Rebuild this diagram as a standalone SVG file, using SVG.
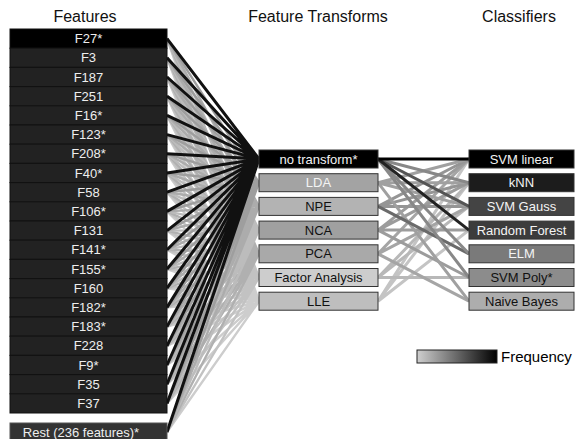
<svg xmlns="http://www.w3.org/2000/svg" width="575" height="439" viewBox="0 0 575 439">
<defs>
<style>
text{font-family:"Liberation Sans",Arial,sans-serif;text-anchor:middle}
.title{font-size:16px;fill:#111}
.lbl{font-size:13px}
.feat rect{fill:#222;stroke:#111;stroke-width:1}
.feat text{fill:#eee}
.box rect{stroke:#333;stroke-width:1}
.w{fill:#f4f4f4}
.k{fill:#111}
.con path{fill:none;stroke-width:3}
.con .g{stroke-width:2.4}
</style>
<linearGradient id="freq" x1="0" y1="0" x2="1" y2="0">
<stop offset="0" stop-color="#cfcfcf"/>
<stop offset="1" stop-color="#000"/>
</linearGradient>
</defs>
<rect width="575" height="439" fill="#fff"/>
<text class="title" x="85" y="22">Features</text>
<text class="title" x="318" y="22">Feature Transforms</text>
<text class="title" x="519" y="22">Classifiers</text>

<g id="connectors" class="con">
<path class="g" stroke="#cdcdcd" d="M167 38.6L259 301.2M167 57.8L259 301.2M167 77L259 301.2M167 96.2L259 301.2M167 115.4L259 301.2M167 134.6L259 301.2M167 153.8L259 301.2M167 173L259 301.2M167 192.2L259 301.2M167 211.4L259 301.2M167 230.6L259 301.2M167 249.8L259 301.2M167 269L259 301.2M167 288.2L259 301.2M167 307.4L259 301.2M167 326.6L259 301.2M167 345.8L259 301.2M167 365L259 301.2M167 384.2L259 301.2M167 403.4L259 301.2M167 432L259 301.2"/>
<path class="g" stroke="#c2c2c2" d="M167 38.6L259 277.5M167 57.8L259 277.5M167 77L259 277.5M167 96.2L259 277.5M167 115.4L259 277.5M167 134.6L259 277.5M167 153.8L259 277.5M167 173L259 277.5M167 192.2L259 277.5M167 211.4L259 277.5M167 230.6L259 277.5M167 249.8L259 277.5M167 269L259 277.5M167 288.2L259 277.5M167 307.4L259 277.5M167 326.6L259 277.5M167 345.8L259 277.5M167 365L259 277.5M167 384.2L259 277.5M167 403.4L259 277.5M167 432L259 277.5"/>
<path class="g" stroke="#b0b0b0" d="M167 38.6L259 253.8M167 57.8L259 253.8M167 77L259 253.8M167 96.2L259 253.8M167 115.4L259 253.8M167 134.6L259 253.8M167 153.8L259 253.8M167 173L259 253.8M167 192.2L259 253.8M167 211.4L259 253.8M167 230.6L259 253.8M167 249.8L259 253.8M167 269L259 253.8M167 288.2L259 253.8M167 307.4L259 253.8M167 326.6L259 253.8M167 345.8L259 253.8M167 365L259 253.8M167 384.2L259 253.8M167 403.4L259 253.8M167 432L259 253.8"/>
<path class="g" stroke="#bcbcbc" d="M167 38.6L259 230.1M167 57.8L259 230.1M167 77L259 230.1M167 96.2L259 230.1M167 115.4L259 230.1M167 134.6L259 230.1M167 153.8L259 230.1M167 173L259 230.1M167 192.2L259 230.1M167 211.4L259 230.1M167 230.6L259 230.1M167 249.8L259 230.1M167 269L259 230.1M167 288.2L259 230.1M167 307.4L259 230.1M167 326.6L259 230.1M167 345.8L259 230.1M167 365L259 230.1M167 384.2L259 230.1M167 403.4L259 230.1M167 432L259 230.1"/>
<path class="g" stroke="#acacac" d="M167 38.6L259 206.4M167 57.8L259 206.4M167 77L259 206.4M167 96.2L259 206.4M167 115.4L259 206.4M167 134.6L259 206.4M167 153.8L259 206.4M167 173L259 206.4M167 192.2L259 206.4M167 211.4L259 206.4M167 230.6L259 206.4M167 249.8L259 206.4M167 269L259 206.4M167 288.2L259 206.4M167 307.4L259 206.4M167 326.6L259 206.4M167 345.8L259 206.4M167 365L259 206.4M167 384.2L259 206.4M167 403.4L259 206.4M167 432L259 206.4"/>
<path class="g" stroke="#9e9e9e" d="M167 38.6L259 182.7M167 57.8L259 182.7M167 77L259 182.7M167 96.2L259 182.7M167 115.4L259 182.7M167 134.6L259 182.7M167 153.8L259 182.7M167 173L259 182.7M167 192.2L259 182.7M167 211.4L259 182.7M167 230.6L259 182.7M167 249.8L259 182.7M167 269L259 182.7M167 288.2L259 182.7M167 307.4L259 182.7M167 326.6L259 182.7M167 345.8L259 182.7M167 365L259 182.7M167 384.2L259 182.7M167 403.4L259 182.7M167 432L259 182.7"/>
<path stroke="#111" d="M167 38.6L259 159M167 57.8L259 159M167 77L259 159M167 96.2L259 159M167 115.4L259 159M167 134.6L259 159M167 153.8L259 159M167 173L259 159M167 192.2L259 159M167 211.4L259 159M167 230.6L259 159M167 249.8L259 159M167 269L259 159M167 288.2L259 159M167 307.4L259 159M167 326.6L259 159M167 345.8L259 159M167 365L259 159M167 384.2L259 159M167 403.4L259 159M167 432L259 159"/>

<path stroke="#c4c4c4" d="M378 301.2L469 159M378 301.2L469 182.7M378 301.2L469 230.1"/>
<path stroke="#b8b8b8" d="M378 277.5L469 182.7M378 277.5L469 206.4M378 277.5L469 277.5"/>
<path stroke="#a5a5a5" d="M378 253.8L469 159M378 253.8L469 206.4M378 253.8L469 301.2"/>
<path stroke="#9c9c9c" d="M378 230.1L469 159M378 230.1L469 182.7M378 230.1L469 230.1M378 230.1L469 277.5"/>
<path stroke="#959595" d="M378 206.4L469 159M378 206.4L469 182.7M378 206.4L469 206.4"/>
<path stroke="#a0a0a0" d="M378 182.7L469 159M378 182.7L469 182.7M378 182.7L469 206.4M378 182.7L469 301.2"/>
<path stroke="#6a6a6a" d="M378 206.4L469 253.8"/>
<path stroke="#888" d="M378 159L469 182.7M378 159L469 253.8M378 159L469 277.5"/>
<path stroke="#555" d="M378 159L469 206.4"/>
<path stroke="#222" d="M378 159L469 230.1"/>
<path stroke="#000" d="M378 159L469 159"/>
</g>

<g id="f27" class="feat"><rect x="10" y="29" width="157" height="19.2" style="fill:#000"/><text class="lbl" x="88.5" y="43.2">F27*</text></g>
<g id="f3" class="feat"><rect x="10" y="48.2" width="157" height="19.2"/><text class="lbl" x="88.5" y="62.4">F3</text></g>
<g id="f187" class="feat"><rect x="10" y="67.4" width="157" height="19.2"/><text class="lbl" x="88.5" y="81.6">F187</text></g>
<g id="f251" class="feat"><rect x="10" y="86.6" width="157" height="19.2"/><text class="lbl" x="88.5" y="100.8">F251</text></g>
<g id="f16" class="feat"><rect x="10" y="105.8" width="157" height="19.2"/><text class="lbl" x="88.5" y="120">F16*</text></g>
<g id="f123" class="feat"><rect x="10" y="125" width="157" height="19.2"/><text class="lbl" x="88.5" y="139.2">F123*</text></g>
<g id="f208" class="feat"><rect x="10" y="144.2" width="157" height="19.2"/><text class="lbl" x="88.5" y="158.4">F208*</text></g>
<g id="f40" class="feat"><rect x="10" y="163.4" width="157" height="19.2"/><text class="lbl" x="88.5" y="177.6">F40*</text></g>
<g id="f58" class="feat"><rect x="10" y="182.6" width="157" height="19.2"/><text class="lbl" x="88.5" y="196.8">F58</text></g>
<g id="f106" class="feat"><rect x="10" y="201.8" width="157" height="19.2"/><text class="lbl" x="88.5" y="216">F106*</text></g>
<g id="f131" class="feat"><rect x="10" y="221" width="157" height="19.2"/><text class="lbl" x="88.5" y="235.2">F131</text></g>
<g id="f141" class="feat"><rect x="10" y="240.2" width="157" height="19.2"/><text class="lbl" x="88.5" y="254.4">F141*</text></g>
<g id="f155" class="feat"><rect x="10" y="259.4" width="157" height="19.2"/><text class="lbl" x="88.5" y="273.6">F155*</text></g>
<g id="f160" class="feat"><rect x="10" y="278.6" width="157" height="19.2"/><text class="lbl" x="88.5" y="292.8">F160</text></g>
<g id="f182" class="feat"><rect x="10" y="297.8" width="157" height="19.2"/><text class="lbl" x="88.5" y="312">F182*</text></g>
<g id="f183" class="feat"><rect x="10" y="317" width="157" height="19.2"/><text class="lbl" x="88.5" y="331.2">F183*</text></g>
<g id="f228" class="feat"><rect x="10" y="336.2" width="157" height="19.2"/><text class="lbl" x="88.5" y="350.4">F228</text></g>
<g id="f9" class="feat"><rect x="10" y="355.4" width="157" height="19.2"/><text class="lbl" x="88.5" y="369.6">F9*</text></g>
<g id="f35" class="feat"><rect x="10" y="374.6" width="157" height="19.2"/><text class="lbl" x="88.5" y="388.8">F35</text></g>
<g id="f37" class="feat"><rect x="10" y="393.8" width="157" height="19.2"/><text class="lbl" x="88.5" y="408">F37</text></g>
<g id="rest" class="feat"><rect x="10" y="423" width="157" height="20" style="fill:#333;stroke:#555"/><text class="lbl" x="81" y="436.5">Rest (236 features)*</text></g>

<g id="t-none" class="box"><rect x="259" y="150" width="119" height="18" fill="#000" stroke="none"/><text class="lbl w" x="318.5" y="163.6">no transform*</text></g>
<g id="t-lda" class="box"><rect x="259" y="173.7" width="119" height="18" fill="#a3a3a3"/><text class="lbl w" x="318.5" y="187.3">LDA</text></g>
<g id="t-npe" class="box"><rect x="259" y="197.4" width="119" height="18" fill="#b3b3b3"/><text class="lbl k" x="318.5" y="211">NPE</text></g>
<g id="t-nca" class="box"><rect x="259" y="221.1" width="119" height="18" fill="#a0a0a0"/><text class="lbl k" x="318.5" y="234.7">NCA</text></g>
<g id="t-pca" class="box"><rect x="259" y="244.8" width="119" height="18" fill="#a9a9a9"/><text class="lbl k" x="318.5" y="258.4">PCA</text></g>
<g id="t-fa" class="box"><rect x="259" y="268.5" width="119" height="18" fill="#cdcdcd"/><text class="lbl k" x="318.5" y="282.1">Factor Analysis</text></g>
<g id="t-lle" class="box"><rect x="259" y="292.2" width="119" height="18" fill="#bebebe"/><text class="lbl k" x="318.5" y="305.8">LLE</text></g>

<g id="c-svml" class="box"><rect x="469" y="150" width="105" height="18" fill="#000" stroke="none"/><text class="lbl w" x="521.5" y="163.6">SVM linear</text></g>
<g id="c-knn" class="box"><rect x="469" y="173.7" width="105" height="18" fill="#1c1c1c"/><text class="lbl w" x="521.5" y="187.3">kNN</text></g>
<g id="c-svmg" class="box"><rect x="469" y="197.4" width="105" height="18" fill="#444"/><text class="lbl w" x="521.5" y="211">SVM Gauss</text></g>
<g id="c-rf" class="box"><rect x="469" y="221.1" width="105" height="18" fill="#3c3c3c"/><text class="lbl w" x="521.5" y="234.7">Random Forest</text></g>
<g id="c-elm" class="box"><rect x="469" y="244.8" width="105" height="18" fill="#7a7a7a"/><text class="lbl w" x="521.5" y="258.4">ELM</text></g>
<g id="c-svmp" class="box"><rect x="469" y="268.5" width="105" height="18" fill="#8c8c8c"/><text class="lbl k" x="521.5" y="282.1">SVM Poly*</text></g>
<g id="c-nb" class="box"><rect x="469" y="292.2" width="105" height="18" fill="#adadad"/><text class="lbl k" x="521.5" y="305.8">Naive Bayes</text></g>

<g id="legend">
<rect x="417" y="350" width="80" height="13" fill="url(#freq)" stroke="#222" stroke-width="1"/>
<text x="501" y="362" style="text-anchor:start;font-size:15px;fill:#000">Frequency</text>
</g>
</svg>
